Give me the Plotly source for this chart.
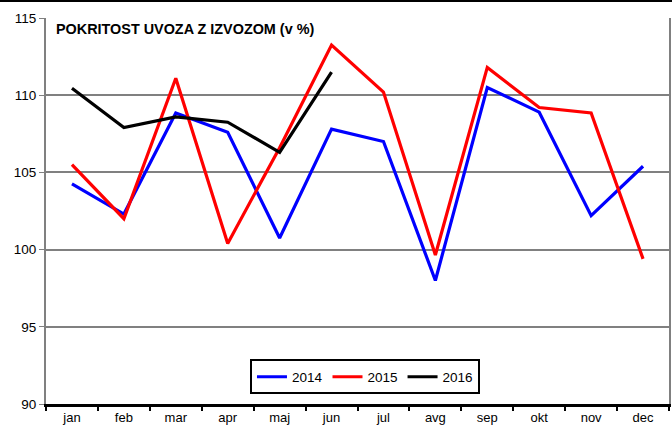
import plotly.graph_objects as go

months = ["jan", "feb", "mar", "apr", "maj", "jun", "jul", "avg", "sep", "okt", "nov", "dec"]
y2014 = [104.25, 102.3, 108.85, 107.6, 100.75, 107.8, 107.0, 98.0, 110.5, 108.9, 102.2, 105.4]
y2015 = [105.5, 102.0, 111.1, 100.4, 106.6, 113.25, 110.2, 99.65, 111.8, 109.2, 108.85, 99.4]
y2016 = [110.45, 107.9, 108.6, 108.25, 106.3, 111.5]
yticks = [90, 95, 100, 105, 110, 115]

fig = go.Figure()
for name, ys, col in [("2014", y2014, "#0000FF"), ("2015", y2015, "#FF0000"), ("2016", y2016, "#000000")]:
    fig.add_trace(go.Scatter(x=months[:len(ys)], y=ys, mode="lines", name=name,
                             line=dict(color=col, width=3.2)))

fig.update_layout(
    width=672, height=430,
    margin=dict(l=46, r=3, t=18, b=26),
    paper_bgcolor="white", plot_bgcolor="white",
    font=dict(family="Liberation Sans, Arial", size=13.5, color="black"),
    showlegend=True,
    legend=dict(orientation="h", x=0.512, y=0.07, xanchor="center", yanchor="middle",
                bordercolor="black", borderwidth=2, bgcolor="white",
                font=dict(size=13.5), itemwidth=30, tracegroupgap=0),
    xaxis=dict(type="category", range=[-0.5, 11.5], tickson="boundaries",
               ticks="outside", ticklen=4, tickcolor="black", tickwidth=1.5,
               showline=True, linecolor="black", linewidth=2.5, showgrid=False,
               tickfont=dict(size=13), automargin=False),
    yaxis=dict(range=[90, 115], tickvals=yticks, ticks="outside", ticklen=5,
               tickcolor="#808080", showline=True, linecolor="#808080", linewidth=2,
               mirror=True, showgrid=True, gridcolor="#808080", gridwidth=1.5,
               zeroline=False, tickfont=dict(size=13.5), automargin=False),
)
fig.add_annotation(text="<b>POKRITOST UVOZA Z IZVOZOM (v %)</b>", xref="paper", yref="paper",
                   x=0.013, y=0.972, xanchor="left", yanchor="middle", showarrow=False,
                   font=dict(size=14.4, color="black"))
fig.add_shape(type="line", xref="paper", yref="paper", x0=-0.1, x1=1.1,
              y0=1 + 17 / 386, y1=1 + 17 / 386, line=dict(color="black", width=2))
fig.write_html("out.html", config={"displayModeBar": False},
               post_script="document.body.style.margin='0';document.body.style.overflow='hidden';")
